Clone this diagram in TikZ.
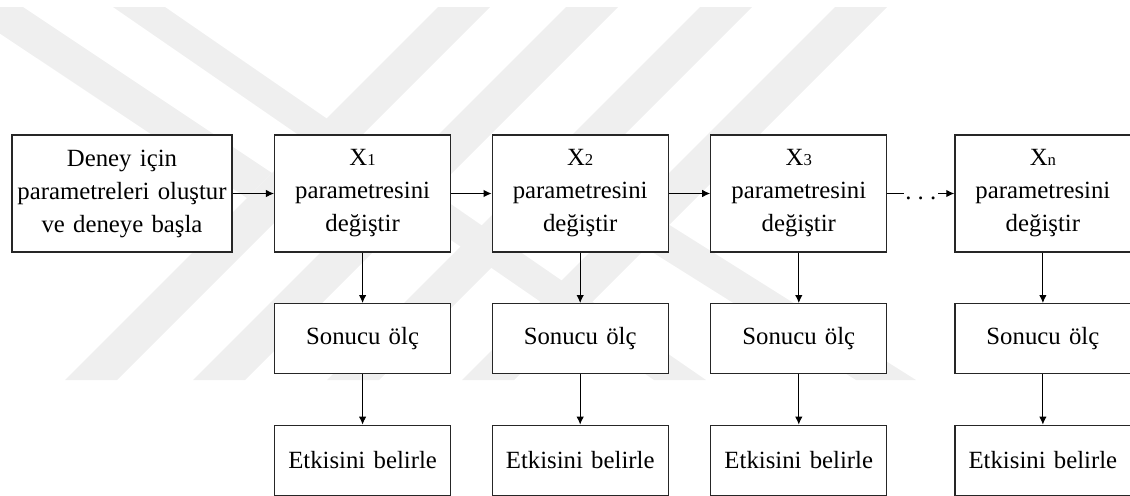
\documentclass[tikz,border=0pt]{standalone}
\usepackage{fontspec}
\setmainfont{Liberation Serif}
\usepackage{tikz}
\usetikzlibrary{arrows.meta,positioning,calc}
\pgfdeclarelayer{background}
\pgfsetlayers{background,main}
\definecolor{filigran}{RGB}{239,239,239}
\tikzstyle{islem}=[draw=black!85, fill=white, line width=0.7pt, text width=3.2cm,
inner xsep=0.16cm, text centered, minimum height=1.4cm]
\tikzstyle{islemUst} = [islem, minimum height=2.34cm]
\tikzstyle{islemBas} = [islemUst, text width=4.3cm, inner xsep=0.05cm]
\tikzstyle{akis} = [draw, line width=0.6pt, color=black, -{Latex[length=0.16cm,width=0.15cm]}]
\tikzstyle{nokta} = [fill=white, inner sep=1pt, text height=1.5ex, text depth=0pt]
\newcommand{\islem}[2]{node (p#1)[islem]{#2}}
\newcommand{\islemUst}[2]{node (p#1)[islemUst]{#2}}
\newcommand{\islemBas}[2]{node (p#1)[islemBas]{#2}}
\newcommand{\xalt}[1]{{\fontsize{9.5}{9.5}\selectfont #1}}

\begin{document}
\begin{tikzpicture}[x=0.02cm, y=0.02cm, font=\fontsize{14.1}{18.8}\selectfont]
		\useasboundingbox (-122,193.5) rectangle (1008,-301.5);
		
		% Draw diagram elements
		\path \islemBas{1}{Deney için\\parametreleri oluştur\\ve deneye başla};
		\path (p1.east)+(130,0) \islemUst{2}{X\xalt{1}\\parametresini\\değiştir};
		\path (p2.east)+(129,0) \islemUst{3}{X\xalt{2}\\parametresini\\değiştir};
		\path (p3.east)+(130,0) \islemUst{4}{X\xalt{3}\\parametresini\\değiştir};
		\path (p4.east)+(155.5,0) \islemUst{5}{X\xalt{n}\\parametresini\\değiştir};
		
		\path (p2.south)+(0,-86) \islem{2a}{Sonucu ölç};
		\path (p3.south)+(0,-86) \islem{3a}{Sonucu ölç};
		\path (p4.south)+(0,-86) \islem{4a}{Sonucu ölç};
		\path (p5.south)+(0,-86) \islem{5a}{Sonucu ölç};
		
		\path (p2a.south)+(0,-86) \islem{2b}{Etkisini belirle};
		\path (p3a.south)+(0,-86) \islem{3b}{Etkisini belirle};
		\path (p4a.south)+(0,-86) \islem{4b}{Etkisini belirle};
		\path (p5a.south)+(0,-86) \islem{5b}{Etkisini belirle};
		
		% Draw arrows between elements
		\path [akis] (p1) -- (p2);
		\path [akis] (p2) -- (p3);
		\path [akis] (p3) -- (p4);
		\path [akis] (p4) -- node [nokta]{.\hspace{0.25em}.\hspace{0.25em}.} (p5);
		
		\path [akis] (p2) -- (p2a);
		\path [akis] (p3) -- (p3a);
		\path [akis] (p4) -- (p4a);
		\path [akis] (p5) -- (p5a);
		\path [akis] (p2a) -- (p2b);
		\path [akis] (p3a) -- (p3b);
		\path [akis] (p4a) -- (p4b);
		\path [akis] (p5a) -- (p5b);
		
		% watermark behind the boxes
		\begin{pgfonlayer}{background}
			\begin{scope}[shift={(-122,193.5)}, yscale=-1]
				\fill[filigran] (438,7) -- (490,7) -- (117,380) -- (65,380) -- cycle;
				\fill[filigran] (566,7) -- (618,7) -- (245,380) -- (193,380) -- cycle;
				\fill[filigran] (700,7) -- (752,7) -- (379,380) -- (327,380) -- cycle;
				\fill[filigran] (835,7) -- (887,7) -- (514,380) -- (462,380) -- cycle;
				\fill[filigran] (-40,7) -- (23,7) -- (272,173) -- (247,198) -- cycle;
				\fill[filigran] (113,7) -- (165,7) -- (706,380) -- (654,380) -- cycle;
				\fill[filigran] (531,176) -- (555,153) -- (916,380) -- (856,380) -- cycle;
			\end{scope}
		\end{pgfonlayer}
		
\end{tikzpicture}
\end{document}
